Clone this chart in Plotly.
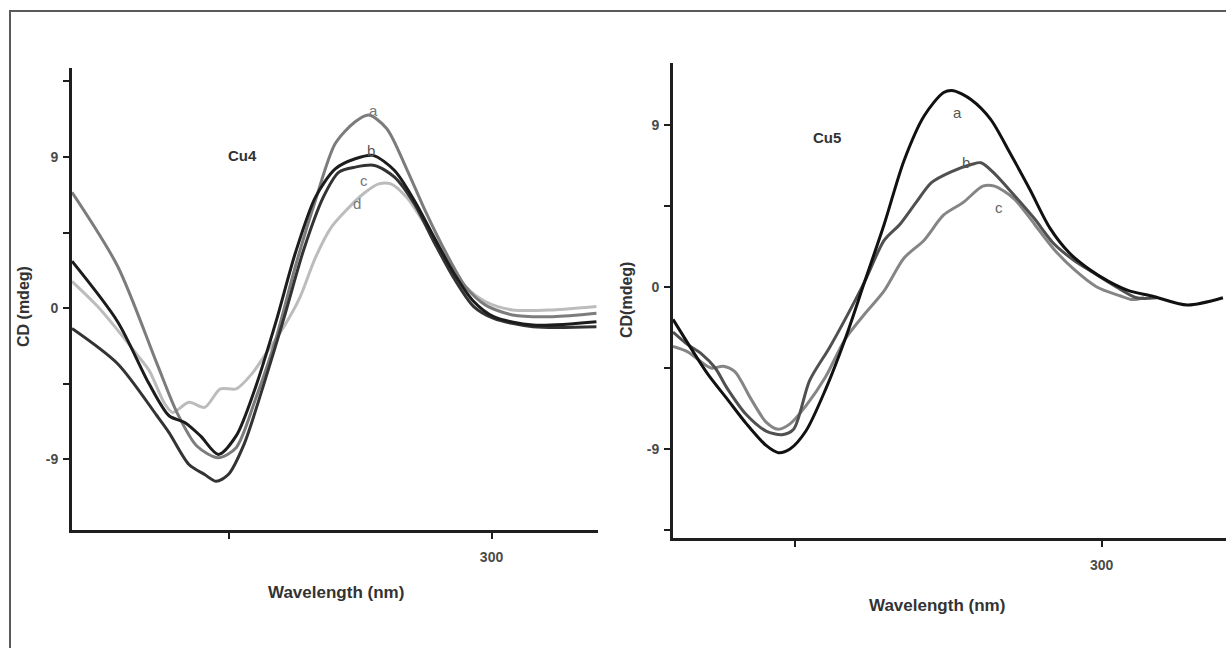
import plotly.graph_objects as go

# ---------------- data: Cu4 (left panel) ----------------
cu4_a_x = [220, 228.7, 236.2, 240, 243.8, 247.9, 251.3, 255, 258.9, 262.6, 266.4, 270.2, 274, 276.6, 280, 283.8, 287.5, 291.3, 295, 298.8, 304, 311.7, 320]
cu4_a_y = [6.9, 2.5, -3.3, -6.2, -8.2, -8.9, -8.3, -5.4, -1.8, 2.5, 6.4, 9.8, 11.1, 11.5, 10.7, 8.3, 5.7, 3.3, 1.3, 0.2, -0.4, -0.5, -0.3]

cu4_b_x = [220, 228.7, 234.7, 238.5, 241.5, 244.5, 247.9, 251.3, 255, 258.9, 262.6, 266.4, 270.2, 274, 277.4, 281.5, 285.3, 289.1, 292.8, 296.6, 300.4, 307.9, 320]
cu4_b_y = [2.8, -0.8, -4.5, -6.4, -6.8, -7.6, -8.7, -7.6, -4.7, -0.8, 3.3, 6.6, 8.3, 8.9, 9.1, 8.2, 6.4, 4.2, 2.1, 0.4, -0.5, -1.0, -0.8]

cu4_c_x = [220, 228.7, 236.2, 238.5, 242.3, 245.3, 247.5, 249.8, 252.8, 256.6, 260.4, 264.2, 267.9, 270.9, 274, 277.7, 281.5, 285.3, 289.1, 292.8, 296.6, 300.4, 307.9, 320]
cu4_c_y = [-1.2, -3.3, -6.4, -7.4, -9.3, -9.9, -10.3, -9.9, -8.1, -4.5, -0.6, 3.5, 6.6, 8.1, 8.4, 8.5, 7.8, 6.2, 3.9, 1.8, 0.1, -0.6, -1.1, -1.1]

cu4_d_x = [220, 224.9, 228.7, 232.5, 234.7, 237.7, 239.2, 242.3, 245.3, 248.3, 251.3, 254.3, 257.4, 260.4, 263.4, 266.4, 269.4, 272.5, 275.5, 278.5, 280.8, 283.8, 287.5, 291.3, 295, 298.8, 304, 311.7, 320]
cu4_d_y = [1.6, 0.1, -1.3, -2.8, -3.7, -5.7, -6.2, -5.6, -5.9, -4.8, -4.8, -3.9, -2.5, -1.1, 0.6, 3.0, 4.8, 5.9, 6.8, 7.4, 7.4, 6.6, 4.9, 3.0, 1.3, 0.4, -0.1, -0.1, 0.1]

# ---------------- data: Cu5 (right panel) ----------------
cu5_a_x = [230, 235.6, 238.8, 242, 245.2, 247.2, 249.1, 251.7, 254.9, 258.1, 261.3, 264.5, 267.7, 271, 274.2, 275.8, 278.7, 281.9, 285.1, 288.3, 291.5, 294.7, 297.9, 301.2, 304.4, 308.2, 314, 319.8]
cu5_a_y = [-1.8, -4.8, -6.2, -7.6, -8.8, -9.2, -9.0, -8.0, -5.7, -2.9, 0.3, 3.5, 7.0, 9.5, 10.8, 10.9, 10.4, 9.3, 7.4, 5.4, 3.3, 1.9, 1.0, 0.3, -0.2, -0.5, -1.0, -0.6]

cu5_b_x = [230, 232.4, 234.6, 236.9, 238.8, 242, 245.2, 247.8, 249.7, 252.3, 255.5, 258.1, 261.3, 264.5, 267.1, 269.7, 272.2, 275.4, 278.7, 280.3, 282.5, 285.7, 289, 292.2, 295.4, 298.6, 302.4, 305.7, 309]
cu5_b_y = [-2.5, -3.2, -3.7, -4.5, -5.6, -7.1, -8.0, -8.2, -7.9, -5.2, -3.4, -1.8, 0.3, 2.6, 3.5, 4.7, 5.8, 6.4, 6.8, 6.9, 6.3, 5.1, 3.8, 2.4, 1.5, 0.8, 0.0, -0.6, -0.6]

cu5_c_x = [230, 232.4, 236.2, 238.2, 240.1, 242.7, 245.2, 247.2, 249.1, 251.7, 254.9, 258.1, 261.3, 264.5, 267.7, 271, 274.2, 277.4, 280.6, 282.5, 285.7, 289, 292.2, 295.4, 299.2, 303.1, 305, 306.9]
cu5_c_y = [-3.3, -3.6, -4.5, -4.4, -4.7, -6.2, -7.5, -7.9, -7.6, -6.6, -5.0, -2.9, -1.5, -0.2, 1.6, 2.6, 4.0, 4.7, 5.6, 5.6, 4.9, 3.5, 2.1, 1.0, 0.0, -0.5, -0.7, -0.6]

y_tickvals = [-13.5, -9, -4.5, 0, 4.5, 9, 13.5]
y_ticktext = ["", "-9", "", "0", "", "9", ""]
x_tickvals = [250, 300]
x_ticktext = ["", "300"]

W, H = 1226, 648
FONT = "Liberation Sans, Arial, sans-serif"

fig = go.Figure()

def add_line(x, y, color, xa, ya, width=3):
    fig.add_trace(go.Scatter(x=x, y=y, mode="lines", xaxis=xa, yaxis=ya,
                             line=dict(color=color, width=width, shape="spline", smoothing=0.8),
                             showlegend=False, hoverinfo="skip"))

add_line(cu4_d_x, cu4_d_y, "#bcbcbc", "x", "y")
add_line(cu4_a_x, cu4_a_y, "#7c7c7c", "x", "y")
add_line(cu4_c_x, cu4_c_y, "#333333", "x", "y")
add_line(cu4_b_x, cu4_b_y, "#1c1c1c", "x", "y")

add_line(cu5_c_x, cu5_c_y, "#858585", "x2", "y2")
add_line(cu5_b_x, cu5_b_y, "#505050", "x2", "y2")
add_line(cu5_a_x, cu5_a_y, "#111111", "x2", "y2")

def px_x(p):
    return p / W

def px_y(p):
    return 1 - p / H

axis_common = dict(showgrid=False, zeroline=False, showline=True, linecolor="#1e1e1e", linewidth=3,
                   ticks="outside", ticklen=6, tickwidth=2, tickcolor="#1e1e1e",
                   tickfont=dict(family=FONT, size=14, color="#4a4a4a", weight="bold"))

fig.update_layout(
    width=W, height=H, margin=dict(l=0, r=0, t=0, b=0),
    paper_bgcolor="white", plot_bgcolor="rgba(0,0,0,0)",
    xaxis=dict(domain=[px_x(72), px_x(598)], range=[220, 320.3], anchor="y",
               tickvals=x_tickvals, ticktext=x_ticktext, ticklabelstandoff=6, **axis_common),
    yaxis=dict(domain=[px_y(530), px_y(68)], range=[-13.2, 14.3], anchor="x",
               tickvals=y_tickvals, ticktext=y_ticktext, ticklabelstandoff=2, **axis_common),
    xaxis2=dict(domain=[px_x(673), 1.0], range=[230, 320.3], anchor="y2",
                tickvals=x_tickvals, ticktext=x_ticktext, ticklabelstandoff=6, **axis_common),
    yaxis2=dict(domain=[px_y(538), px_y(63)], range=[-13.94, 12.44], anchor="x2",
                tickvals=y_tickvals, ticktext=y_ticktext, ticklabelstandoff=2, **axis_common),
)

# outer frame
fig.add_shape(type="rect", xref="paper", yref="paper",
              x0=px_x(10), y0=px_y(700), x1=px_x(1300), y1=px_y(11),
              line=dict(color="#5a5a5a", width=2), fillcolor="rgba(0,0,0,0)")

def ann(text, x, y, xref="paper", yref="paper", size=14, color="#333333", angle=0, bold=True):
    fig.add_annotation(text=f"<b>{text}</b>" if bold else text, x=x, y=y, xref=xref, yref=yref,
                       xanchor="center", yanchor="middle",
                       showarrow=False, textangle=angle,
                       font=dict(family=FONT, size=size, color=color))

# axis titles
ann("CD (mdeg)", px_x(23), px_y(307), size=16, angle=-90)
ann("CD(mdeg)", px_x(626), px_y(300), size=16, angle=-90)
ann("Wavelength (nm)", px_x(336), px_y(592), size=17)
ann("Wavelength (nm)", px_x(937), px_y(605), size=17)

# panel names
ann("Cu4", 252.5, 9.1, "x", "y", size=15)
ann("Cu5", 255.2, 8.3, "x2", "y2", size=15)

# curve labels
ann("a", 277.4, 11.8, "x", "y", size=15, color="#777777", bold=False)
ann("b", 277.0, 9.4, "x", "y", size=15, color="#555555", bold=False)
ann("c", 275.7, 7.6, "x", "y", size=15, color="#777777", bold=False)
ann("d", 274.4, 6.25, "x", "y", size=15, color="#777777", bold=False)
ann("a", 276.4, 9.7, "x2", "y2", size=15, color="#555555", bold=False)
ann("b", 277.9, 6.9, "x2", "y2", size=15, color="#555555", bold=False)
ann("c", 283.3, 4.4, "x2", "y2", size=15, color="#666666", bold=False)

fig.write_html("out.html")
